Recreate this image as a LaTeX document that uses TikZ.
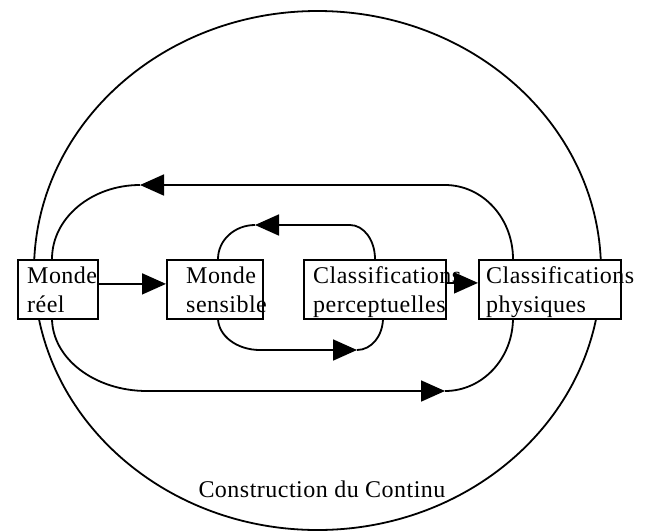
\documentclass[tikz,border=0pt]{standalone}
\usepackage{fontspec}
\setmainfont{Liberation Serif}[LetterSpace=2]
\usetikzlibrary{arrows.meta}
\begin{document}
\begin{tikzpicture}[x=1pt,y=-1pt,
  line/.style={line width=1.8pt},
  conn/.style={line, -{Triangle[length=24pt,width=21pt]}},
  box/.style={draw, line width=1.8pt, fill=white, inner sep=0pt, anchor=north west, minimum height=59pt},
  lbl/.style={inner sep=0pt, anchor=base west, font=\fontsize{24}{29}\selectfont}]
\useasboundingbox (0,0) rectangle (651,531);
\draw[line] (317.5,270.5) ellipse [x radius=283.5pt, y radius=259.5pt];

% attachment coordinates
\coordinate (b1t) at (52,259);
\coordinate (b1b) at (52,318);
\coordinate (b2t) at (218,259);
\coordinate (b2b) at (218,318);
\coordinate (b3t) at (375,259);
\coordinate (b3b) at (383,318);
\coordinate (b4t) at (513,259);
\coordinate (b4b) at (513,318);
\coordinate (otip) at (140,185);
\coordinate (otip2) at (445,391);
\coordinate (itip) at (255,225);
\coordinate (itip2) at (357,350);

% outer loop
\draw[conn] (b4t) .. controls (513,218.1) and (482.6,185) .. (445,185) -- (otip);
\draw[line] (otip) .. controls (91.4,185) and (52,218.1) .. (b1t);
\draw[conn] (b1b) .. controls (52,358.3) and (94.5,391) .. (147,391) -- (otip2);
\draw[line] (otip2) .. controls (482.6,391) and (513,358.3) .. (b4b);
% inner loop
\draw[conn] (b3t) .. controls (375,240.2) and (363.8,225) .. (350,225) -- (itip);
\draw[line] (itip) .. controls (234.6,225) and (218,240.2) .. (b2t);
\draw[conn] (b2b) .. controls (218,335.7) and (236.8,350) .. (260,350) -- (itip2);
\draw[line] (itip2) .. controls (371.4,350) and (383,335.7) .. (b3b);

% boxes
\node[box, minimum width=80pt] (b1) at (17,259) {};
\node[box, minimum width=96pt] (b2) at (166,259) {};
\node[box, minimum width=142pt] (b3) at (303,259) {};
\node[box, minimum width=142pt] (b4) at (478,259) {};

\draw[conn] ([yshift=5.5pt]b1.east) -- ([yshift=5.5pt]b2.west);
\draw[conn] ([yshift=6.5pt]b3.east) -- ([yshift=6.5pt]b4.west);

% texts
\node[lbl] (t1) at (27,283) {\begin{tabular}[t]{@{}l@{}}Monde\\réel\end{tabular}};
\node[lbl] (t2) at (186,283) {\begin{tabular}[t]{@{}l@{}}Monde\\sensible\end{tabular}};
\node[lbl] (t3) at (313,283) {\begin{tabular}[t]{@{}l@{}}Classifications\\perceptuelles\end{tabular}};
\node[lbl] (t4) at (486,283) {\begin{tabular}[t]{@{}l@{}}Classifications\\physiques\end{tabular}};
\node[inner sep=0pt, anchor=base, font=\fontsize{24}{29}\selectfont] (lab) at (322,497) {Construction du Continu};
\end{tikzpicture}
\end{document}
